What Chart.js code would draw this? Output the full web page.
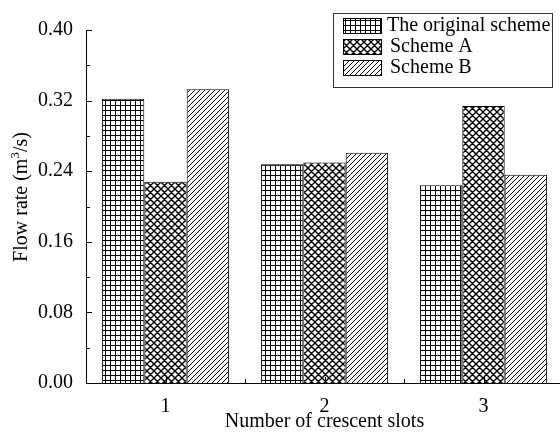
<!DOCTYPE html>
<html>
<head>
<meta charset="utf-8">
<script src="https://cdn.jsdelivr.net/npm/chart.js"></script>
<style>
html, body { margin: 0; padding: 0; background: #fff; overflow: hidden; }
#wrap { width: 563px; height: 433px; }
</style>
</head>
<body>
<div id="wrap"><canvas id="chart" width="563" height="433"></canvas></div>
<script>
var categories = ['1', '2', '3'];
var seriesNames = ['The original scheme', 'Scheme A', 'Scheme B'];
var original = [0.322, 0.248, 0.224];
var schemeA = [0.228, 0.250, 0.314];
var schemeB = [0.333, 0.261, 0.236];
var yTicks = [0, 0.08, 0.16, 0.24, 0.32, 0.40];

var FONT = '20px "Liberation Serif", "Times New Roman", serif';
var SUPFONT = '13px "Liberation Serif", serif';
var canvas = document.getElementById('chart');
var ctx = canvas.getContext('2d');

// hatch fills
function makePattern(size, draw) {
  var c = document.createElement('canvas');
  c.width = size; c.height = size;
  var g = c.getContext('2d');
  g.fillStyle = '#fff';
  g.fillRect(0, 0, size, size);
  g.strokeStyle = '#000';
  g.fillStyle = '#000';
  draw(g, size);
  return ctx.createPattern(c, 'repeat');
}

var gridFill = makePattern(5, function(g, s) {
  g.fillRect(0, 0, s, 1);
  g.fillRect(0, 0, 1, s);
});

var crossFill = makePattern(7, function(g, s) {
  g.lineWidth = 1.4;
  g.beginPath();
  [-s, 0, s].forEach(function(k) {
    g.moveTo(k - 1, -1); g.lineTo(k + s + 1, s + 1);
    g.moveTo(k - 1, s + 1); g.lineTo(k + s + 1, -1);
  });
  g.stroke();
});

var diagFill = makePattern(5, function(g, s) {
  g.lineWidth = 1;
  g.beginPath();
  [0, s, 2 * s].forEach(function(c) {
    g.moveTo(c + 1, -1); g.lineTo(c - s - 1, s + 1);
  });
  g.stroke();
});

var fills = [gridFill, crossFill, diagFill];

var decor = {
  id: 'decor',
  afterDraw: function(chart) {
    var c = chart.ctx;
    var area = chart.chartArea;
    var x = chart.scales.x, y = chart.scales.y;
    c.save();
    c.strokeStyle = '#000';
    c.lineWidth = 1;
    // y ticks, inward
    c.beginPath();
    for (var v = 0; v <= 0.4001; v += 0.04) {
      var py = Math.round(y.getPixelForValue(v)) + 0.5;
      var major = Math.round(v / 0.04) % 2 === 0;
      c.moveTo(area.left, py);
      c.lineTo(area.left + (major ? 6 : 4), py);
    }
    // x ticks, inward
    for (var i = 0; i < categories.length; i++) {
      var px = Math.round(x.getPixelForValue(i)) + 0.5;
      c.moveTo(px, area.bottom);
      c.lineTo(px, area.bottom - 6);
      if (i > 0) {
        var bx = Math.round((x.getPixelForValue(i) + x.getPixelForValue(i - 1)) / 2) + 0.5;
        c.moveTo(bx, area.bottom);
        c.lineTo(bx, area.bottom - 4);
      }
    }
    c.stroke();

    // axis titles
    c.fillStyle = '#000';
    c.font = FONT;
    c.textAlign = 'center';
    c.textBaseline = 'middle';
    c.fillText('Number of crescent slots', (area.left + area.right) / 2, 422);

    c.save();
    c.translate(22, 197);
    c.rotate(-Math.PI / 2);
    var p1 = 'Flow rate (m', sup = '3', p2 = '/s)';
    c.font = FONT;
    var w1 = c.measureText(p1).width, w3 = c.measureText(p2).width;
    c.font = SUPFONT;
    var w2 = c.measureText(sup).width;
    var start = -(w1 + w2 + w3) / 2;
    c.textAlign = 'left';
    c.font = FONT;
    c.fillText(p1, start, 0);
    c.font = SUPFONT;
    c.fillText(sup, start + w1, -6);
    c.font = FONT;
    c.fillText(p2, start + w1 + w2, 0);
    c.restore();

    // legend box
    var lx = 333, ly = 13, lw = 219, lh = 74;
    c.strokeStyle = '#333';
    c.strokeRect(lx + 0.5, ly + 0.5, lw, lh);
    c.font = FONT;
    c.textAlign = 'left';
    c.textBaseline = 'middle';
    chart.data.datasets.forEach(function(ds, k) {
      var ry = 18 + k * 21;
      c.fillStyle = ds.backgroundColor;
      c.fillRect(343, ry, 38, 15);
      c.strokeStyle = '#000';
      c.strokeRect(343.5, ry + 0.5, 38, 15);
      c.fillStyle = '#000';
      c.fillText(ds.label, k === 0 ? 387 : 390, ry + 8);
    });
    c.restore();
  }
};

var datasets = [original, schemeA, schemeB].map(function(vals, k) {
  return {
    label: seriesNames[k],
    data: vals,
    backgroundColor: fills[k],
    borderColor: '#000',
    borderWidth: 1,
    categoryPercentage: 0.8,
    barPercentage: 1.0
  };
});

new Chart(ctx, {
  type: 'bar',
  data: { labels: categories, datasets: datasets },
  options: {
    responsive: false,
    animation: false,
    devicePixelRatio: 1,
    layout: { padding: { top: 30, right: 0, left: 0, bottom: 0 } },
    plugins: { legend: { display: false }, tooltip: { enabled: false } },
    scales: {
      x: {
        grid: { display: false, drawTicks: false },
        border: { display: true, color: '#000', width: 1 },
        ticks: { color: '#000', font: { family: '"Liberation Serif", serif', size: 20 }, padding: 12 },
        afterFit: function(s) { s.height = 50; }
      },
      y: {
        min: 0,
        max: 0.4,
        grid: { display: false, drawTicks: false },
        border: { display: true, color: '#000', width: 1 },
        afterBuildTicks: function(s) { s.ticks = yTicks.map(function(v) { return { value: v }; }); },
        ticks: {
          color: '#000',
          font: { family: '"Liberation Serif", serif', size: 20 },
          padding: 13,
          callback: function(v) { return Number(v).toFixed(2); }
        },
        afterFit: function(s) { s.width = 86; }
      }
    }
  },
  plugins: [decor]
});
</script>
</body>
</html>
